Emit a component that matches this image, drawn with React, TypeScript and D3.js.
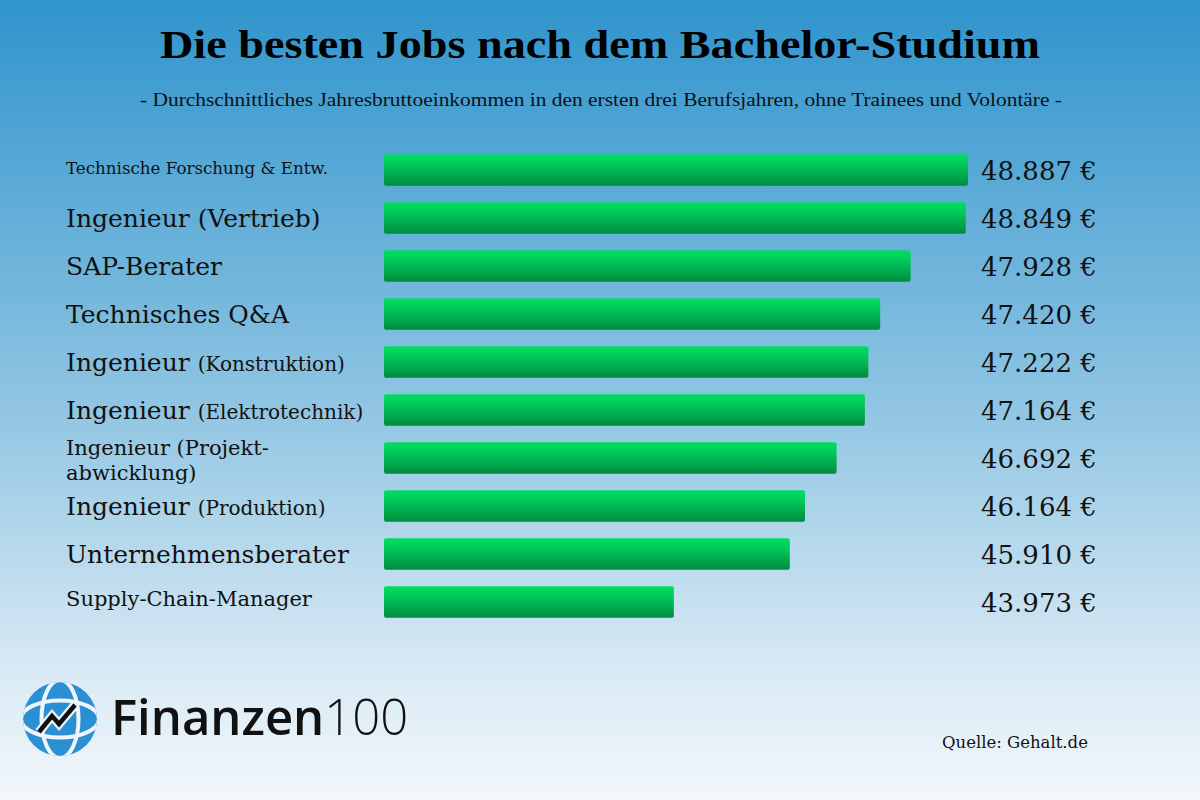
import React from "react";
import * as d3 from "d3";

const categories = [
  "Technische Forschung & Entw.",
  "Ingenieur (Vertrieb)",
  "SAP-Berater",
  "Technisches Q&A",
  "Ingenieur (Konstruktion)",
  "Ingenieur (Elektrotechnik)",
  "Ingenieur (Projekt-abwicklung)",
  "Ingenieur (Produktion)",
  "Unternehmensberater",
  "Supply-Chain-Manager",
];
const values = [48887, 48849, 47928, 47420, 47222, 47164, 46692, 46164, 45910, 43973];

const title = "Die besten Jobs nach dem Bachelor-Studium";
const subtitle =
  "- Durchschnittliches Jahresbruttoeinkommen in den ersten drei Berufsjahren, ohne Trainees und Volontäre -";
const source = "Quelle: Gehalt.de";

const W = 1200;
const H = 800;
const SERIF = "'Liberation Serif', 'DejaVu Serif', serif";
const WIDE = "'DejaVu Serif', 'Liberation Serif', serif";

const de = d3.formatLocale({
  decimal: ",",
  thousands: ".",
  grouping: [3],
  currency: ["", " €"],
});
const fmt = (v: number) => de.format(",")(v) + " €";

function Label({ text, i, y }: { text: string; i: number; y: number }) {
  const x = 66;
  if (i === 0) {
    return (
      <text x={x} y={y + 4} fontSize={16.7} fontFamily={WIDE} fill="#111">
        {text}
      </text>
    );
  }
  if (text.includes("Projekt-")) {
    const [a, b] = text.split("Projekt-");
    return (
      <text x={x} y={y - 3} fontSize={21} fontFamily={WIDE} fill="#111">
        <tspan x={x}>{a + "Projekt-"}</tspan>
        <tspan x={x} dy={25}>{b}</tspan>
      </text>
    );
  }
  if (text === "Supply-Chain-Manager") {
    return (
      <text x={x} y={y + 4} fontSize={21} fontFamily={WIDE} fill="#111">
        {text}
      </text>
    );
  }
  const smallParen = /Konstruktion|Elektrotechnik|Produktion/.test(text);
  if (smallParen) {
    const idx = text.indexOf("(");
    return (
      <text x={x} y={y + 9} fontSize={25} fontFamily={WIDE} fill="#111">
        {text.slice(0, idx)}
        <tspan fontSize={20}>{text.slice(idx)}</tspan>
      </text>
    );
  }
  return (
    <text x={x} y={y + 9} fontSize={25} fontFamily={WIDE} fill="#111">
      {text}
    </text>
  );
}

function Logo() {
  const cx = 60;
  const cy = 719;
  const r = 37;
  const zig = `M${cx - 21},${cy + 13} L${cx - 8},${cy - 3} L${cx - 1},${cy + 5} L${cx + 15},${cy - 14}`;
  return (
    <g>
      <defs>
        <clipPath id="globeClip">
          <circle cx={cx} cy={cy} r={r} />
        </clipPath>
      </defs>
      <circle cx={cx} cy={cy} r={r} fill="#2b8fd4" />
      <g clipPath="url(#globeClip)" stroke="#eef6fc" strokeWidth={4} fill="none">
        <ellipse cx={cx} cy={cy} rx={r * 0.5} ry={r + 2} />
        <ellipse cx={cx} cy={cy} rx={r + 2} ry={r * 0.5} />
      </g>
      <path d={zig} stroke="#eef6fc" strokeWidth={9} fill="none" />
      <path d={zig} stroke="#111" strokeWidth={4.5} fill="none" />
      <text
        x={111}
        y={735}
        fontFamily="'Open Sans', 'Noto Sans', sans-serif"
        fontSize={49}
        fill="#111"
      >
        <tspan fontWeight={600}>Finanzen</tspan>
        <tspan fontWeight={300} dx={0}>100</tspan>
      </text>
    </g>
  );
}

export default function App() {
  const x = d3.scaleLinear().domain([39130, 48887]).range([384, 968]);
  const y = d3
    .scaleBand<number>()
    .domain(d3.range(categories.length))
    .range([146, 626])
    .paddingInner(0.34)
    .paddingOuter(0.17);
  const bh = y.bandwidth();

  return (
    <svg
      width={W}
      height={H}
      style={{ position: "absolute", left: 0, top: 0, display: "block" }}
    >
      <defs>
        <linearGradient id="bg" x1="0" y1="0" x2="0" y2="1">
          <stop offset="0" stopColor="#2f94cc" />
          <stop offset="0.5" stopColor="#8ec4e2" />
          <stop offset="0.85" stopColor="#dbebf5" />
          <stop offset="1" stopColor="#f2f7fb" />
        </linearGradient>
        <linearGradient id="bar" x1="0" y1="0" x2="0" y2="1">
          <stop offset="0" stopColor="#00de62" />
          <stop offset="0.35" stopColor="#00c85a" />
          <stop offset="1" stopColor="#008a3e" />
        </linearGradient>
      </defs>
      <rect x={0} y={0} width={W} height={H} fill="url(#bg)" />

      <text
        x={160}
        y={58}
        textLength={880}
        lengthAdjust="spacingAndGlyphs"
        fontFamily={SERIF}
        fontWeight="bold"
        fontSize={39}
        fill="#000"
      >
        {title}
      </text>
      <text
        x={140}
        y={106}
        textLength={922}
        lengthAdjust="spacingAndGlyphs"
        fontFamily={SERIF}
        fontSize={18}
        fill="#111"
      >
        {subtitle}
      </text>

      {values.map((v, i) => {
        const yy = y(i)!;
        const cy = yy + bh / 2;
        return (
          <g key={i}>
            <rect
              x={x.range()[0]}
              y={yy}
              width={x(v) - x.range()[0]}
              height={bh}
              rx={2}
              fill="url(#bar)"
            />
            <text x={981} y={cy + 10} fontFamily={WIDE} fontSize={26} fill="#111">
              {fmt(v)}
            </text>
            <Label text={categories[i]} i={i} y={cy} />
          </g>
        );
      })}

      <Logo />

      <text x={942} y={748} fontFamily={WIDE} fontSize={16.5} fill="#111">
        {source}
      </text>
    </svg>
  );
}
